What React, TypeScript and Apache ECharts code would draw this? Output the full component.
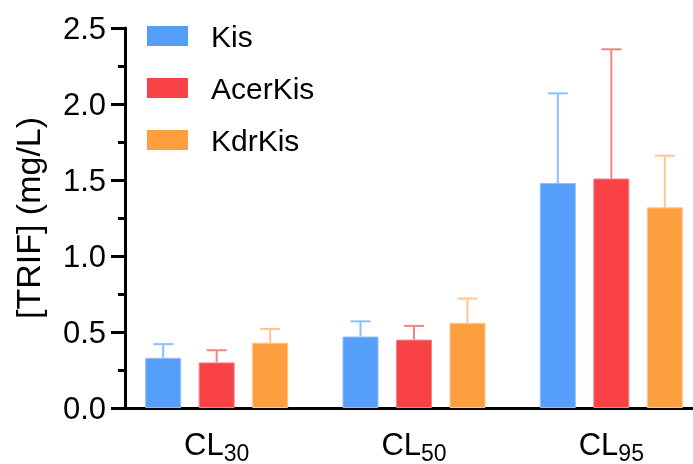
import React, { useEffect, useRef } from "react";
import * as echarts from "echarts";

const categories = ["CL30", "CL50", "CL95"];
const seriesNames = ["Kis", "AcerKis", "KdrKis"];
const kisMean = [0.33, 0.47, 1.48];
const kisErr = [0.09, 0.1, 0.59];
const acerMean = [0.3, 0.45, 1.51];
const acerErr = [0.08, 0.09, 0.85];
const kdrMean = [0.43, 0.56, 1.32];
const kdrErr = [0.09, 0.16, 0.34];
const yMin = 0;
const yMax = 2.5;
const yInterval = 0.5;

const colors = ["#559FFB", "#F94245", "#FE9F3F"];
const errColors = ["#8DBEFF", "#F28486", "#FFC68E"];

const BAR_W = 36;
const BAR_GAP_PX = 17.5;
const FONT = "'Liberation Sans', Arial, Helvetica, sans-serif";
const CHART_W = 720;

export default function App() {
  const ref = useRef<HTMLDivElement>(null);
  useEffect(() => {
    if (!ref.current) return;
    const chart = echarts.init(ref.current, null, { renderer: "svg" });
    const means = [kisMean, acerMean, kdrMean];
    const errs = [kisErr, acerErr, kdrErr];

    const barSeries = seriesNames.map((name, i) => ({
      name,
      type: "bar",
      data: means[i],
      barWidth: BAR_W,
      barGap: `${(BAR_GAP_PX / BAR_W) * 100}%`,
      itemStyle: {
        color: colors[i],
        borderColor: errColors[i],
        borderWidth: 1,
      },
      z: 2,
    }));

    const errSeries = seriesNames.map((name, i) => ({
      name: name + " error",
      type: "custom",
      data: means[i].map((m, k) => [k, m, m + errs[i][k]]),
      encode: { x: 0, y: [1, 2] },
      z: 3,
      renderItem: (params: any, api: any) => {
        const cat = api.value(0);
        const p0 = api.coord([cat, api.value(1)]);
        const p1 = api.coord([cat, api.value(2)]);
        const x = p0[0] + (i - 1) * (BAR_W + BAR_GAP_PX);
        const style = { stroke: errColors[i], lineWidth: 2 };
        return {
          type: "group",
          children: [
            { type: "line", shape: { x1: x, y1: p0[1], x2: x, y2: p1[1] }, style },
            { type: "line", shape: { x1: x - 10, y1: p1[1], x2: x + 10, y2: p1[1] }, style },
          ],
        };
      },
    }));

    chart.setOption({
      animation: false,
      textStyle: { fontFamily: FONT },
      grid: { left: 118, width: 592, top: 28, bottom: 53, containLabel: false },
      legend: {
        data: seriesNames,
        orient: "vertical",
        left: 147,
        top: 21,
        padding: 0,
        icon: "rect",
        itemWidth: 41,
        itemHeight: 20,
        itemGap: 22,
        textStyle: {
          fontSize: 30,
          color: "#000",
          fontFamily: FONT,
          padding: [0, 0, 0, 18],
        },
        itemStyle: { borderWidth: 0 },
      },
      xAxis: {
        type: "category",
        data: categories,
        axisLine: { lineStyle: { color: "#000", width: 3 } },
        axisTick: { alignWithLabel: true, length: 12, lineStyle: { color: "#000", width: 3 } },
        axisLabel: {
          margin: 21,
          color: "#000",
          formatter: (v: string) => `{a|${v.slice(0, 2)}}{b|${v.slice(2)}}`,
          rich: {
            a: { fontSize: 31, lineHeight: 30, verticalAlign: "top", color: "#000", fontFamily: FONT },
            b: {
              fontSize: 23,
              lineHeight: 22,
              verticalAlign: "top",
              padding: [12, 0, 0, 0],
              color: "#000",
              fontFamily: FONT,
            },
          },
        },
      },
      yAxis: {
        type: "value",
        min: yMin,
        max: yMax,
        interval: yInterval,
        offset: -7,
        name: "[TRIF] (mg/L)",
        nameLocation: "middle",
        nameGap: 80,
        nameTextStyle: { fontSize: 34, color: "#000", fontFamily: FONT },
        axisLine: { show: true, lineStyle: { color: "#000", width: 3 } },
        axisTick: { show: true, length: 14, lineStyle: { color: "#000", width: 3 } },
        minorTick: { show: true, splitNumber: 2, length: 7, lineStyle: { color: "#000", width: 3 } },
        splitLine: { show: false },
        axisLabel: {
          fontSize: 31,
          margin: 19,
          color: "#000",
          fontFamily: FONT,
          formatter: (v: number) => v.toFixed(1),
        },
      },
      series: [...barSeries, ...errSeries],
    });
    return () => chart.dispose();
  }, []);
  return (
    <div
      style={{ position: "fixed", left: 0, top: 0, width: 693, height: 464, overflow: "hidden" }}
    >
      <div ref={ref} style={{ width: CHART_W, height: 464 }} />
    </div>
  );
}
